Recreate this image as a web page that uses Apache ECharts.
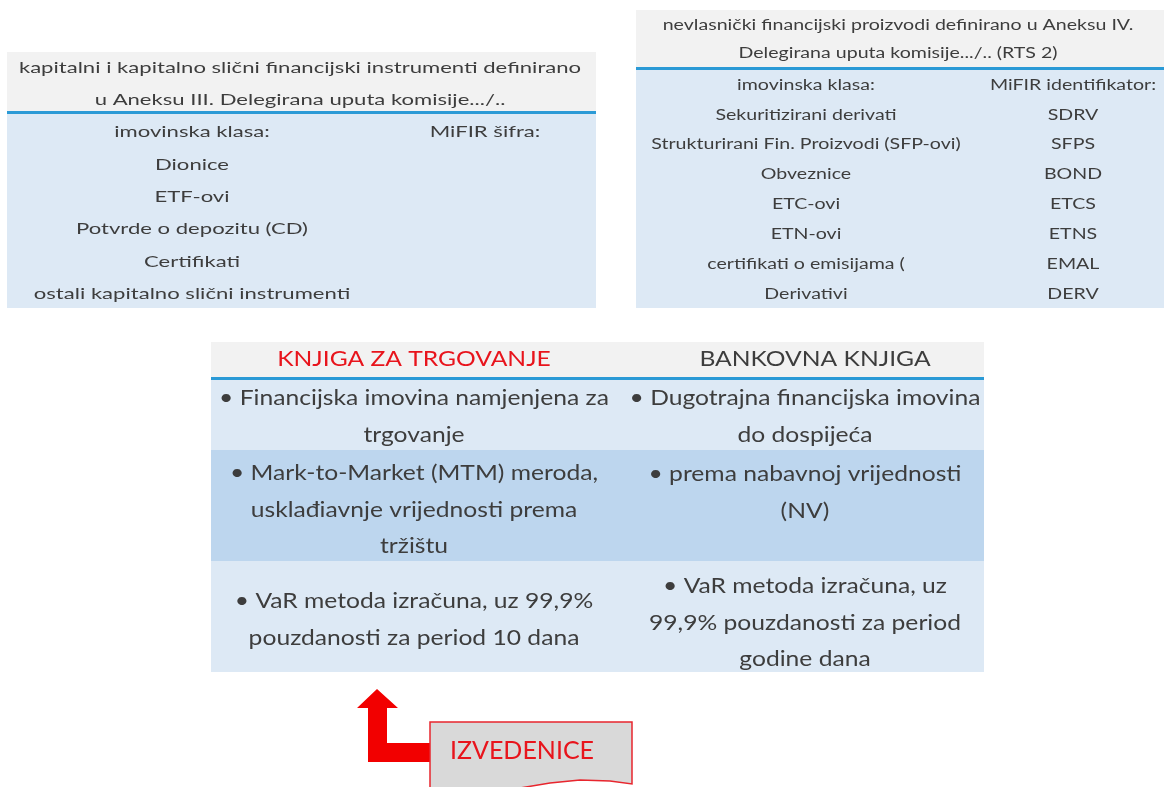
<!DOCTYPE html>
<html><head><meta charset="utf-8">
<script src="https://cdn.jsdelivr.net/npm/echarts@6/dist/echarts.min.js"></script>
<style>html,body{margin:0;padding:0;background:#fff}#c{width:1164px;height:787px}</style>
</head><body><div id="c"></div>
<script>
// ---- data ----
const t1Header = ['kapitalni i kapitalno slični financijski instrumenti definirano', 'u Aneksu III. Delegirana uputa komisije.../..'];
const t1Col1 = ['imovinska klasa:', 'Dionice', 'ETF-ovi', 'Potvrde o depozitu (CD)', 'Certifikati', 'ostali kapitalno slični instrumenti'];
const t1Col2 = ['MiFIR šifra:', '', '', '', '', ''];

const t2Header = ['nevlasnički financijski proizvodi definirano u Aneksu IV.', 'Delegirana uputa komisije.../.. (RTS 2)'];
const t2Col1 = ['imovinska klasa:', 'Sekuritizirani derivati', 'Strukturirani Fin. Proizvodi (SFP-ovi)', 'Obveznice', 'ETC-ovi', 'ETN-ovi', 'certifikati o emisijama (', 'Derivativi'];
const t2Col2 = ['MiFIR identifikator:', 'SDRV', 'SFPS', 'BOND', 'ETCS', 'ETNS', 'EMAL', 'DERV'];

const t3Header = ['KNJIGA ZA TRGOVANJE', 'BANKOVNA KNJIGA'];
const t3Left = [
  ['• Financijska imovina namjenjena za', 'trgovanje'],
  ['• Mark-to-Market (MTM) meroda,', 'usklađiavnje vrijednosti prema', 'tržištu'],
  ['• VaR metoda izračuna, uz 99,9%', 'pouzdanosti za period 10 dana']
];
const t3Right = [
  ['• Dugotrajna financijska imovina', 'do dospijeća'],
  ['• prema nabavnoj vrijednosti', '(NV)'],
  ['• VaR metoda izračuna, uz', '99,9% pouzdanosti za period', 'godine dana']
];
const calloutLabel = 'IZVEDENICE';

// ---- styles / layout ----
const FONT = 'Lato, "Open Sans", sans-serif';
const TXT = '#3d3d3d';
const GRAY = '#f2f2f2';
const BLUE_LINE = '#2b9ad6';
const LIGHT = '#dde9f5';
const DARK = '#bdd6ee';
const RED = '#e8141c';

const g = [];
function rect(x, y, w, h, fill) { g.push({type:'rect', shape:{x, y, width:w, height:h}, style:{fill}, silent:true}); }
function text(s, x, y, size, color, sx) {
  g.push({type:'text', x, y, scaleX: sx || 1, scaleY: 1,
    style:{x:0, y:0, text:s, fill:color || TXT, font: size + 'px ' + FONT, textAlign:'center', textVerticalAlign:'middle'}, silent:true});
}

// table 1
(function(){
  const L = {x0:7, x1:596, top:52, line:112, bottom:308, hY:[68,100], rowY0:132, step:32.4, c:[192,485], f:16, sx:1.38};
  rect(L.x0, L.top, L.x1-L.x0, L.line-L.top, GRAY);
  rect(L.x0, L.line, L.x1-L.x0, L.bottom-L.line, LIGHT);
  rect(L.x0, L.line-1, L.x1-L.x0, 3, BLUE_LINE);
  t1Header.forEach((s,i)=>text(s, 300, L.hY[i], L.f, TXT, L.sx));
  t1Col1.forEach((s,i)=>text(s, L.c[0], L.rowY0 + i*L.step, L.f, TXT, L.sx));
  t1Col2.forEach((s,i)=>{ if(s) text(s, L.c[1], L.rowY0 + i*L.step, L.f, TXT, L.sx); });
})();

// table 2
(function(){
  const L = {x0:636, x1:1164, top:10, line:68, bottom:308, hY:[25,53], rowY0:85, step:29.9, c:[806,1073], f:14.5, sx:1.35};
  rect(L.x0, L.top, L.x1-L.x0, L.line-L.top, GRAY);
  rect(L.x0, L.line, L.x1-L.x0, L.bottom-L.line, LIGHT);
  rect(L.x0, L.line-1, L.x1-L.x0, 3, BLUE_LINE);
  t2Header.forEach((s,i)=>text(s, 898, L.hY[i], L.f, TXT, L.sx));
  t2Col1.forEach((s,i)=>text(s, L.c[0], L.rowY0 + i*L.step, L.f, TXT, L.sx));
  t2Col2.forEach((s,i)=>text(s, L.c[1], L.rowY0 + i*L.step, L.f, TXT, L.sx));
})();

// table 3
(function(){
  const L = {x0:211, x1:984, top:342, line:378, c:[414,805], f:22, sx:1.12, lh:36.5,
    rows:[[380,450],[450,561],[561,672]], fills:[LIGHT, DARK, LIGHT],
    firstY:[[398,473,601],[398,474,586]]};
  rect(L.x0, L.top, L.x1-L.x0, L.line-L.top, GRAY);
  L.rows.forEach((r,i)=>rect(L.x0, r[0], L.x1-L.x0, r[1]-r[0], L.fills[i]));
  rect(L.x0, L.line-1, L.x1-L.x0, 3, BLUE_LINE);
  text(t3Header[0], L.c[0], 359, L.f, RED, L.sx);
  text(t3Header[1], 815, 359, L.f, TXT, L.sx);
  [t3Left, t3Right].forEach((col, ci)=>{
    col.forEach((lines, ri)=>{
      const y0 = L.firstY[ci][ri];
      lines.forEach((s,k)=>text(s, L.c[ci], y0 + k*L.lh, L.f, TXT, L.sx));
    });
  });
})();

// arrow + callout
g.push({type:'polygon', shape:{points:[[377,689],[398,708],[387,708],[387,743],[432,743],[432,762],[368,762],[368,708],[357,708]]}, style:{fill:'#f20000'}, silent:true});
g.push({type:'polygon', shape:{points:[[430,722],[632,722],[632,784],[610,781],[580,780],[550,783],[520,788],[490,795],[430,805]]}, style:{fill:'#d9d9d9', stroke:'#e8262e', lineWidth:1.5}, silent:true});
text(calloutLabel, 522, 751, 25, RED, 1);

const chart = echarts.init(document.getElementById('c'), null, {renderer:'canvas'});
chart.setOption({animation:false, graphic:{elements:g}});
</script></body></html>
